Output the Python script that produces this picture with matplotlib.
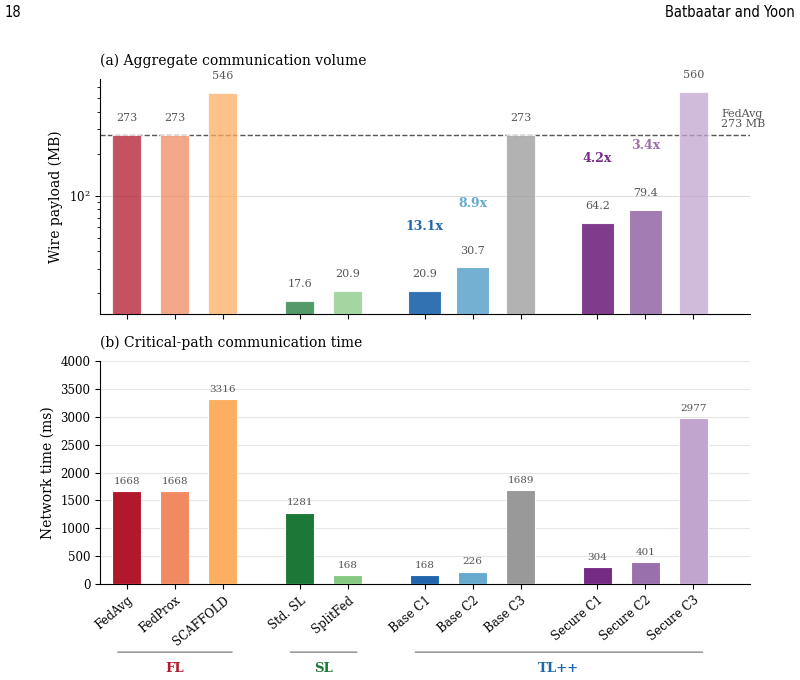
import matplotlib
matplotlib.use("Agg")
import matplotlib.pyplot as plt
from matplotlib.ticker import LogLocator, NullFormatter
import numpy as np

plt.rcParams['font.family'] = ['DejaVu Serif']

methods = ['FedAvg', 'FedProx', 'SCAFFOLD', 'Std. SL', 'SplitFed',
           'Base C1', 'Base C2', 'Base C3', 'Secure C1', 'Secure C2', 'Secure C3']
payload_mb = [273, 273, 546, 17.6, 20.9, 20.9, 30.7, 273, 64.2, 79.4, 560]
payload_lbl = ['273', '273', '546', '17.6', '20.9', '20.9', '30.7', '273', '64.2', '79.4', '560']
net_ms = [1668, 1668, 3316, 1281, 168, 168, 226, 1689, 304, 401, 2977]
# reduction vs FedAvg payload, shown over selected bars
reductions = {5: '13.1x', 6: '8.9x', 8: '4.2x', 9: '3.4x'}
# clusters of bars (spacing) and labelled groups (brackets)
clusters = [3, 2, 3, 3]
groups = [('FL', 0, 2), ('SL', 3, 4), ('TL++', 5, 10)]

colors = ['#b2182b', '#ef8a62', '#fdae61', '#1b7837', '#86c983',
          '#2166ac', '#67a9cf', '#999999', '#762a83', '#9970ab', '#c2a5cf']
group_colors = {'FL': '#b2182b', 'SL': '#1b7837', 'TL++': '#2166ac'}
highlight = [5, 6, 8, 9]

gap = 1.6
pos = []
x = 0.0
for k, n in enumerate(clusters):
    if k > 0:
        x += gap - 1
    for _ in range(n):
        pos.append(x)
        x += 1
pos = np.array(pos)

fig = plt.figure(figsize=(8, 6.8), dpi=100)
ax1 = fig.add_axes([0.125, 0.538, 0.8125, 0.346])
ax2 = fig.add_axes([0.125, 0.141, 0.8125, 0.328])

xlim = (-0.56, 12.98)

# (a) payload, log scale
ax1.set_yscale('log')
for i, v in enumerate(payload_mb):
    hl = i in highlight
    ax1.bar(pos[i], v, width=0.7 if hl else 0.6, color=colors[i],
            alpha=0.92 if hl else 0.75, edgecolor='white', linewidth=0.8, zorder=3)
ax1.axhline(payload_mb[0], color='#555555', ls='--', lw=1, zorder=2)
ax1.text(12.38, payload_mb[0] * 1.1, 'FedAvg\n273 MB', fontsize=8,
         color='#555555', ha='left', va='bottom', linespacing=1.05)
for i, (v, s) in enumerate(zip(payload_mb, payload_lbl)):
    ax1.annotate(s, (pos[i], v), xytext=(0, 12), textcoords='offset points',
                 ha='center', va='center', fontsize=8, color='#555555')
for i, s in reductions.items():
    ax1.annotate(s, (pos[i], payload_mb[i]), xytext=(0, 46), textcoords='offset points',
                 ha='center', va='center', fontsize=9, fontweight='bold', color=colors[i])
ax1.set_ylim(14.2, 690)
ax1.set_xlim(*xlim)
ax1.set_xticks(pos)
ax1.set_xticklabels([])
ax1.yaxis.set_major_locator(LogLocator(base=10, numticks=10))
ax1.yaxis.set_minor_locator(LogLocator(base=10, subs=np.arange(2, 10), numticks=10))
ax1.yaxis.set_minor_formatter(NullFormatter())
ax1.grid(axis='y', which='major', color='#dddddd', lw=0.8, zorder=0)
ax1.set_ylabel('Wire payload (MB)', fontsize=10)
ax1.set_title('(a) Aggregate communication volume', loc='left', fontsize=10, pad=10)

# (b) network time
ax2.bar(pos, net_ms, width=0.6, color=colors, edgecolor='white', linewidth=0.8, zorder=3)
for i, v in enumerate(net_ms):
    ax2.annotate(str(v), (pos[i], v), xytext=(0, 7), textcoords='offset points',
                 ha='center', va='center', fontsize=7.5, color='#555555')
ax2.set_ylim(0, 4000)
ax2.set_yticks(np.arange(0, 4001, 500))
ax2.set_xlim(*xlim)
ax2.set_xticks(pos)
ax2.set_xticklabels(methods, rotation=40, ha='right', rotation_mode='anchor', fontsize=8.5)
ax2.grid(axis='y', color='#e6e6e6', lw=0.8, zorder=0)
ax2.set_ylabel('Network time (ms)', fontsize=10)
ax2.set_title('(b) Critical-path communication time', loc='left', fontsize=10, pad=10)

for ax in (ax1, ax2):
    ax.spines['top'].set_visible(False)
    ax.spines['right'].set_visible(False)
    ax.tick_params(axis='both', labelsize=8.5)

# group brackets under the x labels
for gname, a, b in groups:
    ax2.annotate('', xy=(pos[a] - 0.25, -0.305), xytext=(pos[b] + 0.25, -0.305),
                 xycoords=('data', 'axes fraction'), textcoords=('data', 'axes fraction'),
                 arrowprops=dict(arrowstyle='-', color='#888888', lw=1))
    ax2.annotate(gname, xy=((pos[a] + pos[b]) / 2, -0.38),
                 xycoords=('data', 'axes fraction'), ha='center', va='center',
                 fontsize=9.5, fontweight='bold', color=group_colors[gname],
                 annotation_clip=False)

fig.text(0.006, 0.982, '18', fontsize=10.5, family='DejaVu Sans', stretch='condensed',
         ha='left', va='center')
fig.text(0.994, 0.982, 'Batbaatar and Yoon', fontsize=10.5, family='DejaVu Sans',
         stretch='condensed', ha='right', va='center')

fig.savefig('out.png', dpi=100)
